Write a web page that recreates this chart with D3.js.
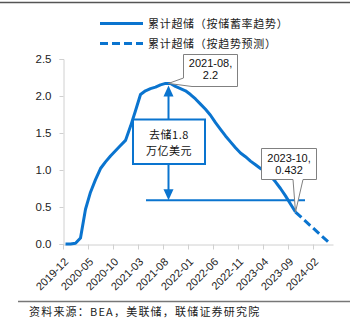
<!DOCTYPE html>
<html><head><meta charset="utf-8">
<script src="https://cdn.jsdelivr.net/npm/d3@7"></script>
<style>body{margin:0;background:#fff;} svg{display:block;}</style>
</head><body>
<script>
// ---- data ----
const startMonth = "2019-12";
const monthCount = 54; // 2019-12 .. 2024-05
const actualValues = [
  0, 0, 0.01, 0.08, 0.47, 0.70, 0.87, 1.02, 1.11, 1.19,
  1.26, 1.33, 1.40, 1.59, 1.80, 2.02, 2.07, 2.10, 2.12, 2.15,
  2.17, 2.17, 2.13, 2.10, 2.07, 2.02, 1.96, 1.89, 1.82, 1.74,
  1.64, 1.55, 1.46, 1.38, 1.30, 1.23, 1.18, 1.12, 1.07, 1.02,
  0.98, 0.92, 0.84, 0.75, 0.65, 0.54, 0.432
];
const forecastMonths = ["2023-10", "2024-05"];
const forecastValues = [0.432, 0];
const tickLabels = ["2019-12","2020-05","2020-10","2021-03","2021-08","2022-01","2022-06","2022-11","2023-04","2023-09","2024-02"];
const yTicks = [0, 0.5, 1.0, 1.5, 2.0, 2.5];
const seriesNames = ["累计超储（按储蓄率趋势）", "累计超储（按趋势预测）"];
const peakLabel = ["2021-08,", "2.2"];
const lastLabel = ["2023-10,", "0.432"];
const drawdownLabel = ["去储1.8", "万亿美元"];
const drawdownLevel = 0.59;
const sourceText = "资料来源：BEA，美联储，联储证券研究院";

// categories
const fmt = d3.utcFormat("%Y-%m");
const start = d3.utcParse("%Y-%m")(startMonth);
const categories = d3.range(monthCount).map(i => fmt(d3.utcMonth.offset(start, i)));
const idx = m => categories.indexOf(m);

// ---- layout ----
const W = 362, H = 330;
const blue = "#0a74cf";
const svg = d3.select("body").append("svg").attr("width", W).attr("height", H);

const x = d3.scaleLinear().domain([-0.5, monthCount - 0.5]).range([63, 333]);
const y = d3.scaleLinear().domain([0, 2.5]).range([244, 59]);

// frame lines
svg.append("line").attr("x1", 0).attr("x2", 350).attr("y1", 2.5).attr("y2", 2.5)
  .attr("stroke", "#555").attr("stroke-width", 1.6);
svg.append("line").attr("x1", 18).attr("x2", 350).attr("y1", 301.5).attr("y2", 301.5)
  .attr("stroke", "#777").attr("stroke-width", 1.4);

// y axis
const yAxis = svg.append("g").attr("transform", "translate(63.5,0)")
  .call(d3.axisLeft(y).tickValues(yTicks).tickFormat(d3.format(".1f")).tickSize(4).tickPadding(8));
yAxis.select(".domain").attr("stroke", "#d0d0d0");
yAxis.selectAll(".tick line").attr("stroke", "#d0d0d0");
yAxis.selectAll("text").attr("font-family", "Liberation Sans, Arial, sans-serif")
  .attr("font-size", 11.5).attr("fill", "#222");

// x axis
const tickPos = tickLabels.map(l => idx(l) - 0.5);
const xAxis = svg.append("g").attr("transform", "translate(0,244.5)")
  .call(d3.axisBottom(x).tickValues(tickPos).tickFormat(() => "").tickSize(5).tickSizeOuter(0));
xAxis.select(".domain").attr("stroke", "#d0d0d0");
xAxis.selectAll(".tick line").attr("stroke", "#d0d0d0");
svg.append("g").selectAll("text").data(tickLabels).join("text")
  .attr("transform", d => `translate(${x(idx(d) - 0.5) + 0.5},257) rotate(-45)`)
  .attr("text-anchor", "end").attr("dy", "0.71em")
  .attr("font-family", "Liberation Sans, Arial, sans-serif").attr("font-size", 11)
  .attr("fill", "#222").text(d => d);

// drawdown guide: horizontal line + double arrow
const peakI = actualValues.indexOf(d3.max(actualValues)) + 0.6;
const ax = x(peakI);
svg.append("line").attr("x1", x(16.1)).attr("x2", x(47.9))
  .attr("y1", y(drawdownLevel)).attr("y2", y(drawdownLevel))
  .attr("stroke", blue).attr("stroke-width", 2);
const yTop = y(d3.max(actualValues)) + 2, yBot = y(drawdownLevel);
svg.append("line").attr("x1", ax).attr("x2", ax).attr("y1", yTop + 9).attr("y2", yBot - 9)
  .attr("stroke", blue).attr("stroke-width", 2);
svg.append("path").attr("d", `M${ax},${yTop} L${ax - 5},${yTop + 11} L${ax + 5},${yTop + 11} Z`).attr("fill", blue);
svg.append("path").attr("d", `M${ax},${yBot} L${ax - 5},${yBot - 11} L${ax + 5},${yBot - 11} Z`).attr("fill", blue);

// series
const line = d3.line().x(d => x(d[0])).y(d => y(d[1]));
svg.append("path").datum(actualValues.map((v, i) => [i, v]))
  .attr("d", line).attr("fill", "none").attr("stroke", blue)
  .attr("stroke-width", 3).attr("stroke-linejoin", "round");
svg.append("path").datum(forecastMonths.map((m, i) => [idx(m), forecastValues[i]]))
  .attr("d", line).attr("fill", "none").attr("stroke", blue)
  .attr("stroke-width", 3).attr("stroke-dasharray", "8,4");

// blue text box
svg.append("rect").attr("x", 133).attr("y", 119.5).attr("width", 72).attr("height", 44.5)
  .attr("fill", "#fff").attr("stroke", blue).attr("stroke-width", 2);
svg.append("g").selectAll("text").data(drawdownLabel).join("text")
  .attr("x", 169).attr("y", (d, i) => 139 + i * 15.5).attr("text-anchor", "middle")
  .attr("font-family", "Noto Sans CJK SC, sans-serif").attr("font-size", 11).attr("fill", "#111")
  .attr("letter-spacing", 0.5)
  .text(d => d);

// callouts
function callout(pathD, lines, cx, y0) {
  svg.append("path").attr("d", pathD).attr("fill", "#fff").attr("stroke", "#808080").attr("stroke-width", 1);
  svg.append("g").selectAll("text").data(lines).join("text")
    .attr("x", cx).attr("y", (d, i) => y0 + i * 12).attr("text-anchor", "middle")
    .attr("font-family", "Liberation Sans, Arial, sans-serif").attr("font-size", 11).attr("fill", "#111")
    .text(d => d);
}
const t1x = x(peakI), t1y = y(d3.max(actualValues));
callout(`M183.5,54.5 H237.5 V86.5 H192 L${t1x},${t1y} L183.5,78 Z`, peakLabel, 210.5, 67);
const li = actualValues.length - 1;
const t2x = x(li), t2y = y(actualValues[li]);
callout(`M261.5,148.5 H316.5 V179.5 H303 L${t2x},${t2y} L293,179.5 H261.5 Z`, lastLabel, 289, 162);

// legend
const lg = svg.append("g");
lg.append("line").attr("x1", 100).attr("x2", 143).attr("y1", 23.5).attr("y2", 23.5)
  .attr("stroke", blue).attr("stroke-width", 3);
lg.append("line").attr("x1", 100).attr("x2", 143).attr("y1", 43.5).attr("y2", 43.5)
  .attr("stroke", blue).attr("stroke-width", 3).attr("stroke-dasharray", "8,4");
lg.selectAll("text").data(seriesNames).join("text")
  .attr("x", 148).attr("y", (d, i) => 27.5 + i * 20)
  .attr("font-family", "Noto Sans CJK SC, sans-serif").attr("font-size", 11).attr("fill", "#222")
  .attr("letter-spacing", 0.7)
  .text(d => d);

// source
svg.append("text").attr("x", 29).attr("y", 315.5)
  .attr("font-family", "Noto Sans CJK SC, sans-serif").attr("font-size", 11).attr("fill", "#222")
  .attr("letter-spacing", 1.2)
  .text(sourceText);
</script>
</body></html>
